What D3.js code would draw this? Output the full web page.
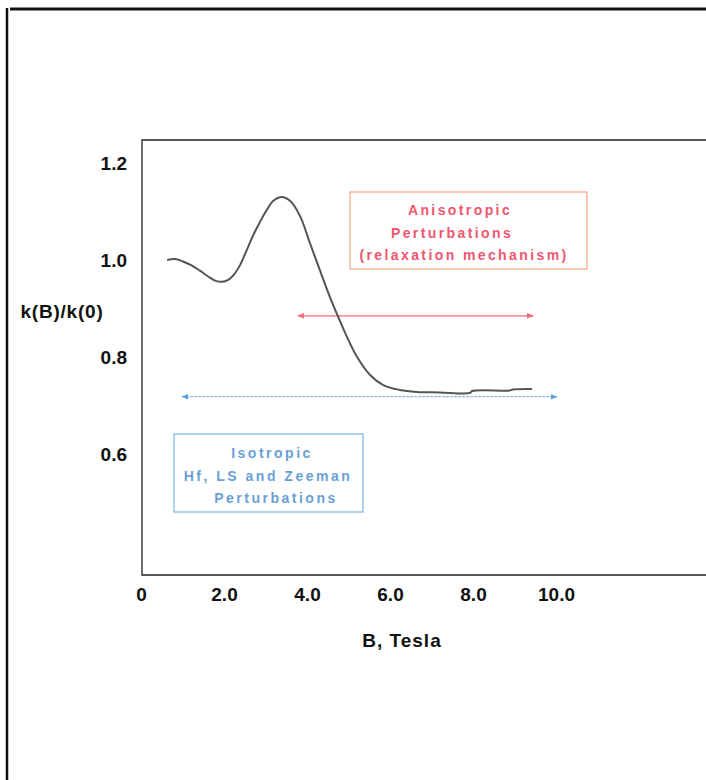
<!DOCTYPE html>
<html>
<head>
<meta charset="utf-8">
<script src="https://cdn.jsdelivr.net/npm/d3@7/dist/d3.min.js"></script>
<style>
  html, body { margin: 0; padding: 0; background: #fff; }
  svg { display: block; }
  text { font-family: "Liberation Sans", Arial, sans-serif; }
</style>
</head>
<body>
<script>
// ---- data ----
const bField = [0.63, 0.82, 1.01, 1.22, 1.42, 1.62, 1.80, 1.95, 2.10, 2.24, 2.39, 2.55, 2.71, 2.87, 3.03, 3.19, 3.39, 3.59, 3.83, 4.07, 4.31, 4.55, 4.75, 4.96, 5.20, 5.52, 5.84, 6.24, 6.64, 7.20, 7.93, 7.98, 8.89, 8.96, 9.42];
const kRatio = [1.000, 1.002, 0.997, 0.989, 0.978, 0.966, 0.957, 0.955, 0.959, 0.970, 0.990, 1.021, 1.052, 1.079, 1.103, 1.122, 1.130, 1.122, 1.091, 1.035, 0.979, 0.924, 0.883, 0.842, 0.801, 0.763, 0.742, 0.732, 0.728, 0.727, 0.726, 0.730, 0.731, 0.733, 0.734];
const xTicks = [0, 2, 4, 6, 8, 10];
const xTickLabels = ["0", "2.0", "4.0", "6.0", "8.0", "10.0"];
const yTicks = [0.6, 0.8, 1.0, 1.2];
const yTickLabels = ["0.6", "0.8", "1.0", "1.2"];
const anisoRange = [3.78, 9.45], anisoLevel = 0.885;
const isoRange = [0.99, 10.02], isoLevel = 0.718;
const anisoText = ["Anisotropic", "Perturbations", "(relaxation mechanism)"];
const isoText = ["Isotropic", "Hf, LS and Zeeman", "Perturbations"];

// ---- layout ----
const W = 706, H = 780;
const svg = d3.select("body").append("svg").attr("width", W).attr("height", H);

const x = d3.scaleLinear().domain([0, 10]).range([141, 556]);
const y = d3.scaleLinear().domain([0.6, 1.2]).range([454, 163]);
const plotLeft = 142, plotTop = 140, plotBottom = 575;

// outer frame lines
svg.append("line").attr("x1", 10).attr("x2", 706).attr("y1", 9).attr("y2", 9)
  .attr("stroke", "#111").attr("stroke-width", 3);
svg.append("line").attr("x1", 7).attr("x2", 7).attr("y1", 8).attr("y2", 780)
  .attr("stroke", "#111").attr("stroke-width", 2.5);

// plot frame (open on right)
svg.append("path")
  .attr("d", `M706,${plotTop}H${plotLeft}V${plotBottom}H706`)
  .attr("fill", "none").attr("stroke", "#222").attr("stroke-width", 1.3);

// axes (labels only)
const xAxis = d3.axisBottom(x).tickValues(xTicks).tickFormat((d, i) => xTickLabels[i]).tickSize(0).tickPadding(0);
const gx = svg.append("g").attr("transform", "translate(0,587)").call(xAxis);
gx.select(".domain").remove();
gx.selectAll("text").attr("font-size", 19).attr("font-weight", "bold").attr("fill", "#111")
  .attr("font-family", "Liberation Sans, Arial, sans-serif").attr("dy", "0.71em");

const yAxis = d3.axisLeft(y).tickValues(yTicks).tickFormat((d, i) => yTickLabels[i]).tickSize(0).tickPadding(0);
const gy = svg.append("g").attr("transform", "translate(127,0)").call(yAxis);
gy.select(".domain").remove();
gy.selectAll("text").attr("font-size", 19).attr("font-weight", "bold").attr("fill", "#111")
  .attr("font-family", "Liberation Sans, Arial, sans-serif");

// axis titles
svg.append("text").attr("x", 62).attr("y", 318).attr("text-anchor", "middle")
  .attr("font-size", 19).attr("font-weight", "bold").attr("letter-spacing", 0.8).attr("fill", "#111")
  .text("k(B)/k(0)");
svg.append("text").attr("x", 402).attr("y", 647).attr("text-anchor", "middle")
  .attr("font-size", 19).attr("font-weight", "bold").attr("letter-spacing", 1).attr("fill", "#111")
  .text("B, Tesla");

// markers
const defs = svg.append("defs");
function marker(id, color, orient) {
  defs.append("marker").attr("id", id).attr("viewBox", "0 0 10 10")
    .attr("refX", 9).attr("refY", 5).attr("markerWidth", 7).attr("markerHeight", 7)
    .attr("markerUnits", "userSpaceOnUse").attr("orient", orient)
    .append("path").attr("d", "M0,1L10,5L0,9Z").attr("fill", color);
}
marker("redEnd", "#f06a78", "auto");
marker("redStart", "#f06a78", "auto-start-reverse");
marker("blueEnd", "#5f9fda", "auto");
marker("blueStart", "#5f9fda", "auto-start-reverse");

// arrows
svg.append("line").attr("x1", x(anisoRange[0])).attr("x2", x(anisoRange[1]))
  .attr("y1", y(anisoLevel)).attr("y2", y(anisoLevel))
  .attr("stroke", "#f06a78").attr("stroke-width", 1.2)
  .attr("marker-start", "url(#redStart)").attr("marker-end", "url(#redEnd)");
svg.append("line").attr("x1", x(isoRange[0])).attr("x2", x(isoRange[1]))
  .attr("y1", y(isoLevel)).attr("y2", y(isoLevel))
  .attr("stroke", "#6ba4dc").attr("stroke-width", 1.2).attr("stroke-dasharray", "3,1")
  .attr("marker-start", "url(#blueStart)").attr("marker-end", "url(#blueEnd)");

// curve
const pts = bField.map((b, i) => [b, kRatio[i]]);
const line = d3.line().x(d => x(d[0])).y(d => y(d[1])).curve(d3.curveCatmullRom.alpha(0.5));
svg.append("path").datum(pts).attr("d", line)
  .attr("fill", "none").attr("stroke", "#555").attr("stroke-width", 2);

// annotation boxes
svg.append("rect").attr("x", 350).attr("y", 192).attr("width", 237).attr("height", 77)
  .attr("fill", "none").attr("stroke", "#f4a386").attr("stroke-width", 1.2);
const redCenters = [459, 451, 463], redBase = [215, 238, 260];
anisoText.forEach((t, i) => {
  svg.append("text").attr("x", redCenters[i] + 1).attr("y", redBase[i]).attr("text-anchor", "middle")
    .attr("font-size", 14).attr("font-weight", "bold").attr("letter-spacing", 2.4)
    .attr("fill", "#f0566f").text(t);
});

svg.append("rect").attr("x", 174).attr("y", 434).attr("width", 189).attr("height", 78)
  .attr("fill", "none").attr("stroke", "#7ab6e2").attr("stroke-width", 1.2);
const blueCenters = [271, 267, 275], blueBase = [458, 481, 503];
isoText.forEach((t, i) => {
  svg.append("text").attr("x", blueCenters[i] + 1).attr("y", blueBase[i]).attr("text-anchor", "middle")
    .attr("font-size", 14).attr("font-weight", "bold").attr("letter-spacing", 2.5)
    .attr("fill", "#6a9fd6").text(t);
});
</script>
</body>
</html>
